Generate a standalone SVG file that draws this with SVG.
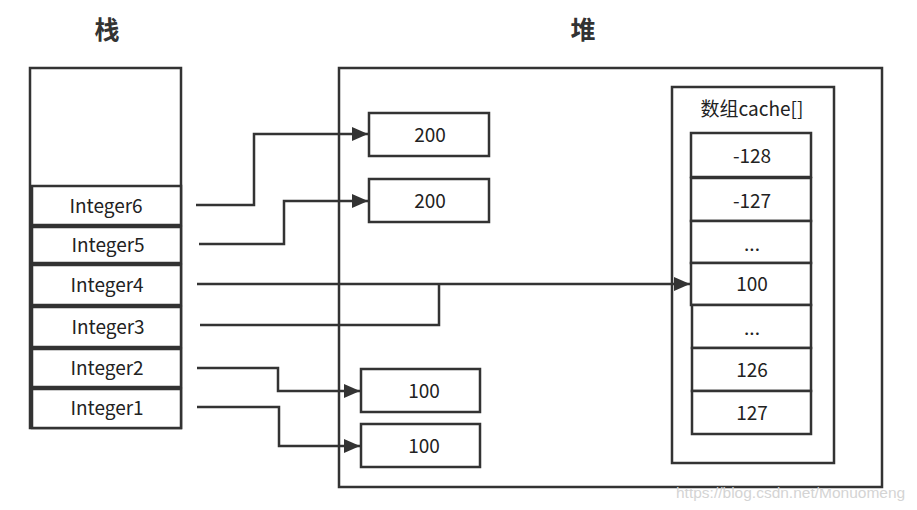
<svg xmlns="http://www.w3.org/2000/svg" width="917" height="510" viewBox="0 0 917 510">
<style>
.box{fill:#fff;stroke:#333;stroke-width:2.5}
.t{font-family:"Noto Sans CJK SC","Open Sans",sans-serif;font-size:19px;fill:#222;text-anchor:middle;dominant-baseline:central}
.h{font-family:"Noto Sans CJK SC",sans-serif;font-size:25px;font-weight:bold;fill:#333;text-anchor:middle;dominant-baseline:central}
.c{fill:none;stroke:#333;stroke-width:2.5}
</style>
<defs>
<marker id="ar" markerUnits="userSpaceOnUse" markerWidth="16" markerHeight="14" refX="16" refY="7" orient="auto">
<path d="M0,0 L16,7 L0,14 z" fill="#333"/>
</marker>
</defs>
<rect width="917" height="510" fill="#fff"/>
<text class="h" x="107" y="28">栈</text>
<text class="h" x="583" y="28">堆</text>
<g id="heap"><rect class="box" x="339" y="68" width="543" height="419"/></g>
<g id="stack">
<rect class="box" x="30" y="68" width="151" height="360"/>
</g>
<g id="integer6"><rect class="box" x="32" y="186" width="149" height="39"/><text class="t" x="106" y="204">Integer6</text></g>
<g id="integer5"><rect class="box" x="32" y="227" width="149" height="36"/><text class="t" x="108" y="243">Integer5</text></g>
<g id="integer4"><rect class="box" x="32" y="265" width="149" height="40"/><text class="t" x="107" y="283">Integer4</text></g>
<g id="integer3"><rect class="box" x="32" y="307" width="149" height="40"/><text class="t" x="108" y="325">Integer3</text></g>
<g id="integer2"><rect class="box" x="32" y="349" width="149" height="38"/><text class="t" x="107" y="366">Integer2</text></g>
<g id="integer1"><rect class="box" x="32" y="389" width="149" height="39"/><text class="t" x="107" y="406">Integer1</text></g>
<g id="v200a"><rect class="box" x="369" y="113" width="120" height="43"/><text class="t" x="430" y="133">200</text></g>
<g id="v200b"><rect class="box" x="369" y="179" width="120" height="43"/><text class="t" x="430" y="199">200</text></g>
<g id="v100a"><rect class="box" x="361" y="369" width="119" height="43"/><text class="t" x="424" y="389">100</text></g>
<g id="v100b"><rect class="box" x="361" y="424" width="119" height="43"/><text class="t" x="424" y="444">100</text></g>
<g id="cache">
<rect class="box" x="672" y="87" width="162" height="376"/>
<text class="t" x="752" y="107">数组cache[]</text>
</g>
<g id="c0"><rect class="box" x="691" y="133" width="120" height="44"/><text class="t" x="752" y="154">-128</text></g>
<g id="c1"><rect class="box" x="691" y="178" width="120" height="43"/><text class="t" x="752" y="199">-127</text></g>
<g id="c2"><rect class="box" x="691" y="221" width="120" height="42"/><text class="t" x="752" y="242">...</text></g>
<g id="c3"><rect class="box" x="691" y="263" width="120" height="42"/><text class="t" x="752" y="282">100</text></g>
<g id="c4"><rect class="box" x="692" y="305" width="119" height="43"/><text class="t" x="752" y="326">...</text></g>
<g id="c5"><rect class="box" x="692" y="348" width="119" height="43"/><text class="t" x="752" y="368">126</text></g>
<g id="c6"><rect class="box" x="692" y="391" width="119" height="43"/><text class="t" x="752" y="411">127</text></g>
<g id="connectors">
<polyline class="c" points="196,205 254,205 254,134 368,134" marker-end="url(#ar)"/>
<polyline class="c" points="199,244 284,244 284,201 368,201" marker-end="url(#ar)"/>
<polyline class="c" points="197,284 690,284" marker-end="url(#ar)"/>
<polyline class="c" points="200,325 439,325 439,284"/>
<polyline class="c" points="197,368 278,368 278,391 360,391" marker-end="url(#ar)"/>
<polyline class="c" points="197,407 279,407 279,446 360,446" marker-end="url(#ar)"/>
</g>
<text x="676" y="492" font-family="Liberation Sans,sans-serif" font-size="15.5" fill="#d4d4d4" dominant-baseline="central">https://blog.csdn.net/Monuomeng</text>
</svg>
